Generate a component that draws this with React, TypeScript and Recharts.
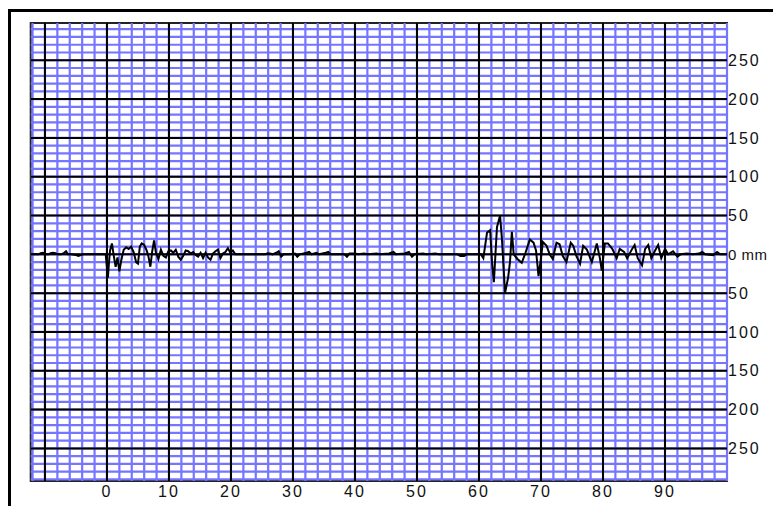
import React from 'react';
import { LineChart, Line, XAxis, YAxis, ReferenceLine, ReferenceArea } from 'recharts';

// Position along the track (x, units) and measured deflection (mm)
const positionMm: number[] = [
  -12.3, -11, -10.7, -10.3, -9.9, -9.4, -9.1, -8.7, -8.3, -7.9, -7.4, -6.9, -6.6, -6.3, -5.8, -5.0, -4.6, -4.2, -3.8, -3.0, -1.5, -0.2,
  0.15, 0.35, 0.5, 0.8, 1.1, 1.4, 1.7, 2.0, 2.3, 2.7, 3.1, 3.5, 3.9, 4.3, 4.7, 5.0, 5.3, 5.6, 6.0, 6.4, 6.7, 7.0, 7.3, 7.6, 7.9,
  8.3, 8.7, 9.1, 9.5, 9.9, 10.3, 10.7, 11.1, 11.5, 11.9, 12.3, 12.7, 13.1, 13.5, 13.9, 14.3, 14.7, 15.1, 15.5, 15.9, 16.3, 16.7,
  17.1, 17.5, 17.9, 18.3, 18.7, 19.1, 19.5, 19.9, 20.3, 20.7, 21.2,
  25.5, 25.9, 26.3, 26.7, 27.3, 27.7, 28.1, 28.5, 29.5, 30.3, 30.7, 31.1, 32.2, 32.6, 33.0, 33.8, 34.2, 35.3, 35.7, 36.1, 38.3,
  38.7, 39.1, 40.0, 40.5, 41.5, 42.0, 43.5, 44.0, 45.5, 46.2, 46.6, 48.0, 48.7, 49.2, 49.6, 51.0, 51.5, 53.0, 53.5, 56.5, 57.0,
  57.6, 58.0, 60.3, 60.7, 61.3, 61.8, 62.1, 62.4, 62.9, 63.4, 63.7, 64.2, 64.7, 65.0, 65.3, 65.6, 66.2, 66.9, 67.5, 68.2, 68.8,
  69.2, 69.6, 70.0, 70.3, 70.9, 71.4, 71.9, 72.5, 73.0, 73.5, 74.1, 74.8, 75.2, 75.7, 76.3, 76.8, 77.4, 78.2, 79.0, 79.5, 79.8,
  80.3, 80.8, 81.5, 82.2, 82.7, 83.4, 83.9, 84.7, 85.1, 85.6, 86.3, 86.8, 87.3, 87.8, 88.4, 88.9, 89.4, 90.0, 90.5, 91.3, 92.0,
  92.5, 93.5, 94.5, 95.5, 96.0, 96.5, 97.8, 98.4, 98.9, 100,
];

const deflection: number[] = [
  0, 0, 1.5, 2, 0, 0, 1.5, 2, 1.5, 0, 0, 2, 4, 0, 0, -1, -2, -1, 0, 0, 0, 0,
  -30, -8, 5, 14, -2, -16, -4, -22, -8, 6, 9, 7, 10, 3, -10, -12, 10, 14, 12, 5, -3, -16, 4, 18, 2,
  -6, 6, -2, -4, 4, 5, 2, 6, -3, -7, -2, 5, 4, 1, 3, -1, -3, 2, -5, 2, -4, -7,
  1, 4, 6, -5, 1, 3, 8, 2, 5, 0, 0,
  0, 1.5, 1, 0, 2, 4, -3, 0, 0, 1, -3, 0, 2, 3, 0, 2, 0, 2, 3, 0, 0,
  -3, 1, 1, 0, 1, 0, 1, 0, 1, 3, 0, 1, 3, -3, 0, 1, 0, 1, 0, 0, -2,
  -2, 0, 0, -5, 28, 31, -10, -36, 35, 50, 20, -50, -30, -10, 29, 0, -6, -11, 2, 19, 15,
  5, -28, -5, 16, 11, 0, -6, 15, 13, -2, -10, 15, 11, -2, -12, 11, 6, -10, 14, -5, -21,
  14, 14, 7, -5, 7, 3, -5, 7, 12, -5, -14, 7, 12, -5, 5, 12, -5, 7, 0, 4, -3,
  0, 1, 0, 1, 3, 0, -1, 3, 0, 0,
];

const xTickValues: number[] = [0, 10, 20, 30, 40, 50, 60, 70, 80, 90];
const yTickValues: number[] = [-250, -200, -150, -100, -50, 0, 50, 100, 150, 200, 250];
const zeroLabel = '0 mm';

const X_DOMAIN: [number, number] = [-12.3, 100];
const Y_DOMAIN: [number, number] = [-292, 298];

const minorX: number[] = [];
for (let v = -12; v <= 100; v += 2) minorX.push(v);
const minorY: number[] = [];
for (let v = -290; v <= 290; v += 10) minorY.push(v);
const majorX: number[] = [-10, 0, 10, 20, 30, 40, 50, 60, 70, 80, 90];
const majorY: number[] = yTickValues;

const data = positionMm.map((x, i) => ({ x, y: deflection[i] }));

const FONT = '"Liberation Sans", Arial, sans-serif';

const tickStyle = {
  fontFamily: FONT,
  fontSize: 16,
  fill: '#111',
  letterSpacing: 2,
};

const RightTick = (props: any) => {
  const { x, y, payload } = props;
  const v = payload.value as number;
  const isZero = v === 0;
  return (
    <text
      x={x}
      y={y}
      dy="0.355em"
      textAnchor="start"
      fontFamily={FONT}
      fontSize={isZero ? 15 : 16}
      fill="#111"
      letterSpacing={isZero ? 0.5 : 2}
    >
      {isZero ? zeroLabel : String(Math.abs(v))}
    </text>
  );
};

export default function App() {
  return (
    <div
      style={{
        position: 'absolute',
        left: 0,
        top: 0,
        width: 773,
        height: 506,
        overflow: 'hidden',
        background: '#fff',
      }}
    >
      <div
        style={{
          position: 'absolute',
          left: 8,
          top: 9,
          width: 765,
          height: 497,
          borderLeft: '3px solid #000',
          borderTop: '3px solid #000',
          boxSizing: 'border-box',
        }}
      />
      <div style={{ position: 'absolute', left: 0, top: 0 }}>
        <LineChart
          width={773}
          height={506}
          data={data}
          margin={{ top: 23, right: 0, left: 30.7, bottom: 0 }}
        >
          <XAxis
            dataKey="x"
            type="number"
            domain={X_DOMAIN}
            ticks={xTickValues}
            interval={0}
            allowDataOverflow
            axisLine={false}
            tickLine={false}
            tickSize={0}
            tickMargin={5}
            height={25}
            tick={tickStyle}
          />
          <YAxis
            orientation="right"
            type="number"
            domain={Y_DOMAIN}
            ticks={yTickValues}
            interval={0}
            allowDataOverflow
            axisLine={false}
            tickLine={false}
            tickSize={0}
            tickMargin={1}
            width={46}
            tick={<RightTick />}
          />
          {minorX.map((v) => (
            <ReferenceLine key={'mx' + v} x={v} stroke="#7575ff" strokeWidth={2.2} />
          ))}
          {minorY.map((v) => (
            <ReferenceLine key={'my' + v} y={v} stroke="#7575ff" strokeWidth={2.2} />
          ))}
          {majorX.map((v) => (
            <ReferenceLine key={'Mx' + v} x={v} stroke="#000" strokeWidth={2} />
          ))}
          {majorY.map((v) => (
            <ReferenceLine key={'My' + v} y={v} stroke="#000" strokeWidth={2} />
          ))}
          <Line
            type="linear"
            dataKey="y"
            stroke="#000"
            strokeWidth={2}
            dot={false}
            isAnimationActive={false}
          />
          <ReferenceArea
            x1={X_DOMAIN[0]}
            x2={X_DOMAIN[1]}
            y1={Y_DOMAIN[0]}
            y2={Y_DOMAIN[1]}
            fill="none"
            stroke="#222"
            strokeWidth={2}
            ifOverflow="visible"
          />
        </LineChart>
      </div>
    </div>
  );
}
